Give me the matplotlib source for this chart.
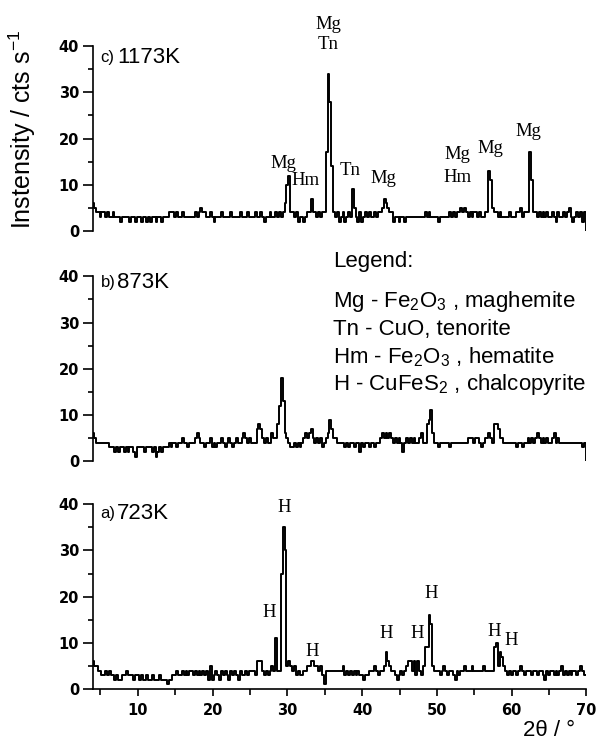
import matplotlib
matplotlib.use("Agg")
import matplotlib.pyplot as plt
import numpy as np
from matplotlib.ticker import MultipleLocator

plt.rcParams["font.family"] = ["Liberation Sans", "DejaVu Sans"]
plt.rcParams["mathtext.fontset"] = "custom"
plt.rcParams["mathtext.rm"] = "Liberation Sans"
plt.rcParams["mathtext.it"] = "Liberation Sans:italic"
plt.rcParams["mathtext.bf"] = "Liberation Sans:bold"

# scan grid, one reading every 0.25 deg from 4 to 70
two_theta = np.arange(4.0, 70.001, 0.25)

# a) 723K
int_723 = [
    6, 5, 5, 4, 4, 3, 3, 4, 3, 4, 3, 3, 2, 3, 2, 2, 3, 3, 4, 3,
    3, 3, 2, 3, 3, 2, 3, 2, 2, 3, 2, 2, 3, 2, 2, 2, 3, 2, 2, 2,
    1, 2, 2, 3, 3, 4, 3, 3, 4, 3, 4, 3, 4, 4, 3, 4, 3, 4, 3, 4,
    3, 4, 2, 5, 2, 3, 4, 3, 2, 4, 3, 4, 3, 2, 4, 3, 4, 3, 2, 4,
    3, 3, 4, 3, 4, 4, 4, 3, 6, 6, 6, 4, 3, 4, 3, 4, 5, 4, 11, 4,
    4, 25, 35, 30, 5, 6, 5, 4, 5, 3, 4, 3, 3, 4, 4, 5, 5, 6, 6, 5,
    5, 4, 5, 3, 1, 4, 4, 4, 4, 4, 4, 4, 4, 4, 5, 3, 4, 3, 4, 3,
    4, 3, 4, 3, 3, 2, 3, 3, 4, 4, 4, 5, 4, 3, 4, 4, 5, 8, 6, 5,
    4, 4, 3, 2, 3, 4, 3, 4, 5, 6, 6, 4, 6, 3, 6, 4, 3, 5, 9, 9,
    16, 14, 5, 4, 4, 4, 3, 4, 5, 4, 3, 4, 4, 3, 2, 4, 3, 4, 4, 5,
    4, 4, 4, 5, 4, 4, 4, 4, 4, 5, 4, 4, 4, 4, 4, 9, 10, 5, 8, 7,
    5, 4, 3, 4, 3, 4, 4, 3, 4, 5, 4, 3, 4, 4, 4, 3, 4, 4, 3, 4,
    4, 3, 2, 4, 3, 4, 4, 3, 4, 3, 4, 5, 3, 4, 3, 4, 3, 4, 4, 3,
    4, 5, 4, 3, 3,
]

# b) 873K
int_873 = [
    6, 5, 4, 4, 4, 4, 4, 4, 4, 3, 3, 3, 2, 3, 2, 3, 3, 2, 3, 2,
    3, 3, 2, 1, 3, 3, 3, 3, 2, 3, 3, 3, 2, 3, 1, 2, 3, 2, 3, 3,
    3, 4, 3, 4, 4, 3, 4, 4, 5, 4, 4, 3, 4, 4, 4, 5, 6, 5, 4, 4,
    3, 4, 4, 5, 3, 4, 3, 4, 4, 5, 4, 3, 4, 5, 4, 3, 4, 5, 4, 4,
    5, 6, 5, 4, 5, 4, 4, 4, 7, 8, 7, 5, 4, 5, 4, 4, 6, 5, 5, 8,
    12, 18, 13, 6, 5, 4, 3, 3, 4, 3, 4, 3, 4, 5, 6, 5, 6, 7, 5, 4,
    5, 4, 5, 3, 4, 5, 6, 9, 7, 5, 5, 4, 4, 4, 4, 3, 4, 3, 4, 4,
    3, 4, 4, 2, 4, 3, 4, 4, 3, 4, 4, 3, 4, 4, 5, 6, 5, 6, 5, 6,
    5, 4, 5, 4, 5, 4, 2, 4, 5, 4, 5, 4, 5, 4, 4, 5, 6, 4, 4, 8,
    9, 11, 6, 4, 4, 3, 4, 4, 4, 4, 4, 3, 4, 4, 4, 4, 4, 4, 4, 4,
    4, 5, 5, 5, 4, 5, 5, 4, 3, 4, 5, 5, 6, 5, 4, 8, 8, 7, 5, 5,
    4, 4, 4, 4, 4, 4, 4, 3, 4, 4, 3, 4, 4, 5, 4, 5, 4, 5, 6, 5,
    4, 5, 4, 5, 4, 4, 5, 6, 4, 5, 4, 4, 4, 4, 4, 4, 4, 4, 4, 4,
    4, 4, 3, 4, 0,
]

# c) 1173K
int_1173 = [
    6, 5, 4, 4, 3, 4, 4, 3, 4, 3, 3, 4, 3, 3, 3, 2, 3, 3, 3, 3,
    2, 3, 3, 2, 3, 3, 2, 3, 3, 2, 3, 2, 3, 3, 2, 3, 3, 2, 3, 3,
    3, 4, 4, 4, 3, 4, 3, 3, 4, 3, 3, 3, 3, 3, 3, 4, 3, 4, 5, 4,
    4, 3, 3, 4, 3, 2, 3, 3, 3, 4, 3, 3, 3, 3, 4, 3, 3, 3, 3, 4,
    3, 3, 3, 4, 3, 3, 3, 4, 3, 3, 4, 3, 2, 3, 3, 4, 3, 3, 4, 3,
    4, 3, 4, 6, 10, 12, 4, 4, 3, 4, 2, 3, 3, 2, 3, 4, 4, 7, 4, 4,
    3, 4, 3, 4, 4, 17, 34, 28, 14, 4, 3, 4, 2, 3, 4, 2, 3, 4, 3, 9,
    5, 3, 2, 4, 2, 3, 4, 3, 4, 3, 3, 4, 3, 4, 4, 5, 7, 6, 5, 4,
    4, 2, 3, 3, 2, 3, 3, 2, 3, 3, 3, 3, 3, 3, 3, 3, 3, 3, 4, 3,
    4, 3, 3, 3, 3, 2, 3, 3, 3, 3, 3, 4, 3, 4, 3, 4, 4, 5, 4, 5,
    4, 3, 4, 3, 4, 4, 3, 4, 3, 3, 4, 4, 13, 11, 5, 4, 4, 3, 4, 3,
    3, 3, 3, 4, 3, 3, 3, 4, 4, 5, 3, 4, 4, 4, 17, 11, 4, 4, 3, 4,
    3, 4, 3, 4, 3, 3, 4, 3, 2, 4, 3, 3, 4, 3, 4, 5, 3, 2, 3, 4,
    3, 4, 2, 4, 0,
]

# peak assignments: (phase, 2theta, height of label)
peaks_1173 = [("Mg", 29.5, 14.6), ("Hm", 32.4, 11.0), ("Mg", 35.5, 44.7),
              ("Tn", 35.5, 40.4), ("Tn", 38.4, 13.0), ("Mg", 42.8, 11.4),
              ("Mg", 52.7, 16.5), ("Hm", 52.7, 11.6), ("Mg", 57.1, 17.8),
              ("Mg", 62.3, 21.5)]
peaks_873 = []
peaks_723 = [("H", 27.6, 16.5), ("H", 29.6, 39.3), ("H", 33.3, 8.1),
             ("H", 43.2, 12.0), ("H", 47.3, 12.0), ("H", 49.2, 20.6),
             ("H", 57.7, 12.4), ("H", 60.0, 10.4)]

panels = [
    ("c)", "1173K", int_1173, peaks_1173, 0.690, 37.6),
    ("b)", "873K", int_873, peaks_873, 0.381, 38.7),
    ("a)", "723K", int_723, peaks_723, 0.0752, 38.0),
]

legend_lines = ["Legend:",
                "Mg - Fe$_2$O$_3$ , maghemite",
                "Tn - CuO, tenorite",
                "Hm - Fe$_2$O$_3$ , hematite",
                "H - CuFeS$_2$ , chalcopyrite"]

fig = plt.figure(figsize=(5.96, 7.45), dpi=100)

tick_font = dict(family="DejaVu Sans", weight="bold", size=10.5)

for i, (tag, temp, counts, peaks, bottom, ty) in enumerate(panels):
    ax = fig.add_axes([0.156, bottom, 0.828, 0.248])
    ax.plot(two_theta, counts, drawstyle="steps-mid", color="black", lw=1.4)
    ax.set_xlim(4, 70)
    ax.set_ylim(0, 40)
    for s in ["top", "right"]:
        ax.spines[s].set_visible(False)
    ax.spines["left"].set_linewidth(1.2)
    ax.spines["bottom"].set_linewidth(1.2)
    ax.yaxis.set_major_locator(MultipleLocator(10))
    ax.yaxis.set_minor_locator(MultipleLocator(5))
    ax.tick_params(axis="y", which="major", length=7, width=1.2, pad=3)
    ax.tick_params(axis="y", which="minor", length=3.5, width=1.2)
    for lab in ax.get_yticklabels():
        lab.set_fontproperties(tick_font)
    if i < 2:
        ax.spines["bottom"].set_visible(False)
        ax.tick_params(axis="x", which="both", bottom=False, labelbottom=False)
    else:
        ax.xaxis.set_major_locator(MultipleLocator(10))
        ax.xaxis.set_minor_locator(MultipleLocator(5))
        ax.tick_params(axis="x", which="major", length=5, width=1.2, pad=5)
        ax.tick_params(axis="x", which="minor", length=4.5, width=1.2)
        for lab in ax.get_xticklabels():
            lab.set_fontproperties(tick_font)

    ax.text(5.0, ty, tag, fontsize=12, ha="left", va="center")
    ax.text(5.0 + 0.35 * len(tag) * 3.2, ty, temp, fontsize=16, ha="left", va="center")

    for name, x, y in peaks:
        ax.text(x, y, name, family="Liberation Serif", fontsize=13.5,
                ha="center", va="center", clip_on=False)

fig.text(0.037, 0.826, "Instensity / cts s$^{-1}$", rotation=90,
         fontsize=18, ha="center", va="center")
fig.text(0.921, 0.020, "2\u03b8 / \u00b0", fontsize=16, ha="center", va="center")

legend_y = [262, 302, 329, 357, 384]
for txt, yp in zip(legend_lines, legend_y):
    fig.text(0.559, 1 - yp / 745, txt, fontsize=16, ha="left", va="center")

fig.savefig("out.png", dpi=100)
